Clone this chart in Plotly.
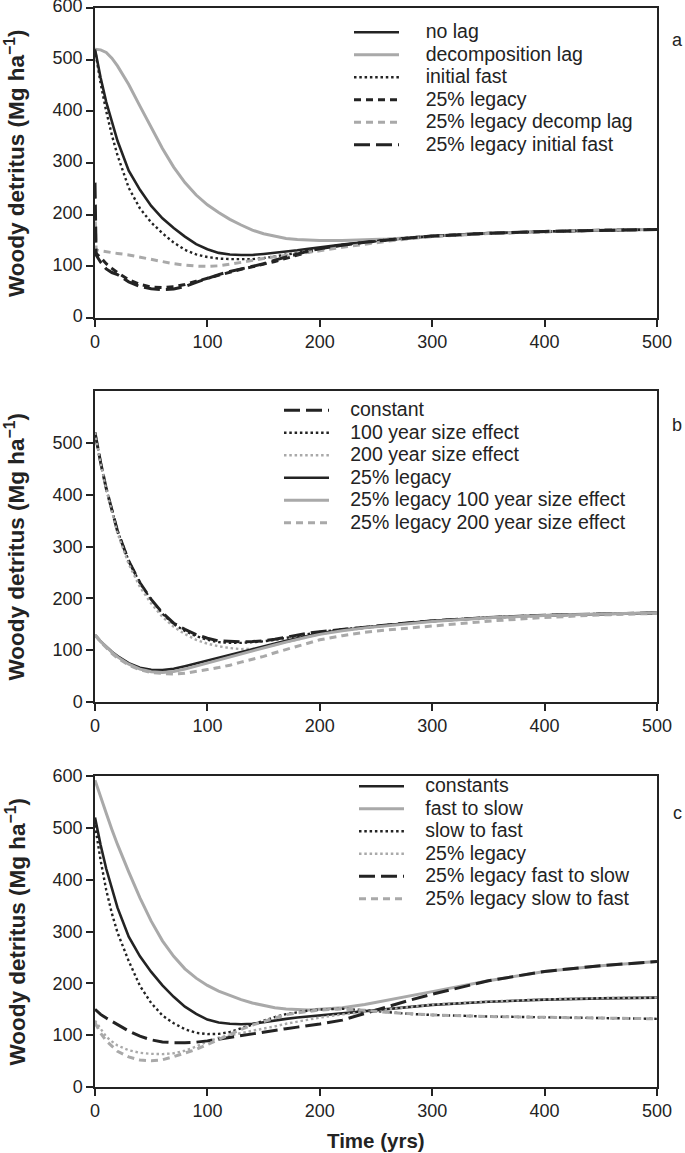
import plotly.graph_objects as go

T = [0, 1, 5, 10, 15, 20, 30, 40, 50, 60, 70, 80, 90, 100, 110, 120, 130, 140, 150,
     160, 170, 180, 190, 200, 220, 240, 260, 280, 300, 350, 400, 450, 500]

# ---------------- panel a ----------------
a_no_lag = [520, 508, 465, 418, 378, 343, 285, 248, 217, 193, 174, 157.5, 143, 133, 126, 123, 122, 122, 124,
            126, 128.5, 131, 134, 137, 142, 147, 151.5, 155, 158.5, 164, 167.5, 170, 171.5]
a_decomp_lag = [520, 520, 519, 514, 503, 488, 452, 410, 368, 328, 292, 262, 238, 219, 204, 191, 180, 170, 163,
                158, 154, 152, 151, 150, 150, 151, 153, 155.5, 158.5, 164, 167.5, 170, 171.5]
a_initial_fast = [520, 505, 454, 400, 354, 315, 252, 212, 185, 164, 146, 132, 123, 118, 115, 114, 113.5, 114, 116,
                  119, 122.5, 126, 130, 134, 141, 146.5, 151, 155, 158.5, 164, 167.5, 170, 171.5]
a_legacy = [130, 125, 117, 105, 96, 88, 74, 65, 60, 59, 60.5, 65, 71, 77, 83.5, 89.5, 94.5, 99, 104,
            109.5, 115.5, 122, 128.5, 134, 141, 146.5, 151, 155, 158.5, 164, 167.5, 170, 171.5]
a_legacy_decomp = [210, 132, 130, 128, 126, 125, 122, 118, 113.5, 109, 105, 102.5, 100.5, 100, 101, 104, 108, 111.5, 115,
                   118.5, 121, 124, 127, 130, 137, 143, 148.5, 153.5, 157.5, 163.5, 167.5, 170, 171.5]
a_legacy_fast = [262, 122, 108, 95, 88, 84, 70, 61, 56.5, 55, 56, 61, 69, 77, 84, 90, 95, 99.5, 105,
                 112, 118, 124, 129.5, 134, 141, 146.5, 151, 155, 158.5, 164, 167.5, 170, 171.5]

# ---------------- panel b ----------------
b_constant = [520, 508, 462, 412, 368, 330, 272, 230, 198, 172, 152, 140, 130, 123, 118, 116.5, 116, 116.5, 118,
              121, 125, 129, 133, 135.5, 140, 144, 148.5, 153, 156.5, 163, 167.5, 170, 172]
b_size100 = [520, 508, 462, 412, 368, 330, 272, 229, 197, 170, 150, 137, 127, 120, 115.5, 114, 114, 115, 117,
             120, 124, 128, 132, 135, 140, 144, 148.5, 153, 156.5, 163, 167.5, 170, 172]
b_size200 = [520, 507, 460, 410, 365, 326, 266, 222, 190, 164, 145, 131, 120, 112.5, 107.5, 104, 102, 102.5, 105,
             110, 115, 120.5, 126, 131, 138, 143, 147.5, 152, 155.5, 162, 167, 170, 172]
b_legacy = [129, 127, 117, 106, 97, 88.5, 75, 66, 62, 61.5, 64, 69, 74.5, 80.5, 85.5, 91, 96.5, 101.5, 107,
            113, 118, 123, 128, 132.5, 139, 144, 148.5, 153, 156.5, 163, 167.5, 170, 172]
b_legacy100 = [129, 127, 117, 106, 96, 87, 73, 63.5, 58.5, 57, 59, 63.5, 69.5, 75.5, 81.5, 87.5, 93, 98.5, 104,
               110, 115.5, 121, 126, 130.5, 137.5, 143, 147.5, 152, 155.5, 162.5, 167, 170, 172]
b_legacy200 = [129, 127, 116, 104, 94, 85, 71, 62, 57, 55, 54, 55.5, 58.5, 62.5, 66.5, 71, 77, 82, 88,
               95, 101, 107.5, 114, 120, 128, 134.5, 139, 143, 147, 156, 163, 168, 171]

# ---------------- panel c ----------------
c_constants = [520, 509, 467, 421, 381, 346, 290, 252, 222, 196, 174, 155, 141, 130, 124.5, 122, 121, 122, 125,
               128.5, 131.5, 134, 136, 138.5, 142.5, 147, 151, 155, 158.5, 164.5, 168.5, 171, 172.5]
c_fast_slow = [592, 586, 560, 528, 497, 468, 415, 365, 320, 282, 252, 228, 210, 196, 185, 176, 168.5, 162, 157,
               153, 150.5, 149, 148.5, 150, 153, 159, 167, 175.5, 184, 205, 223, 234, 242]
c_slow_fast = [505, 490, 437, 380, 335, 298, 243, 195, 162, 138, 123, 111.5, 104.5, 102, 102.5, 106, 113.5, 121, 128,
               135, 140.5, 144.5, 147.5, 149.5, 151, 148, 144, 141, 139, 136, 134.5, 133, 131.5]
c_legacy = [128, 125, 111, 97, 88, 80, 71, 66, 64, 63.5, 65, 70, 78, 87.5, 95, 100, 104, 108.5, 112.5,
            117, 122, 126, 130, 134, 140, 145, 150, 155, 159, 165, 169, 171.5, 172.5]
c_legacy_fast_slow = [150, 148, 140, 133, 127, 120, 108, 98, 91, 87, 85.5, 85.5, 86.5, 89, 92.5, 96, 98.5, 102, 106,
                      109.5, 112.5, 115.5, 118.5, 121.5, 129, 142, 155, 167.5, 179, 205, 223, 234, 242]
c_legacy_slow_fast = [124, 120, 104, 89, 78, 69, 58, 52, 50.5, 52.5, 58.5, 65, 72.5, 82, 92, 102, 111, 119.5, 126.5,
                      133.5, 139.5, 143, 146, 148.5, 150.5, 148, 144, 141, 139, 136, 134.5, 133, 131.5]

X_TICKS = [0, 100, 200, 300, 400, 500]
Y_TICKS_AC = [0, 100, 200, 300, 400, 500, 600]
Y_TICKS_B = [0, 100, 200, 300, 400, 500]

BLACK = "#232323"
GRAY = "#a9a9a9"
DOT = "2.5px,2.8px"
SHORT = "7px,5px"
LONG = "16px,6px"
FONT = "Liberation Sans"

def lbl(s, pad):
    return '<span style="font-size:19.5px">' + "\u00a0" * pad + s + '</span>'

panels = [
    ("x", "y", "legend", 4, [
        ("no lag", a_no_lag, BLACK, 2.6, "solid"),
        ("decomposition lag", a_decomp_lag, GRAY, 3, "solid"),
        ("initial fast", a_initial_fast, BLACK, 2.4, DOT),
        ("25% legacy", a_legacy, BLACK, 3, SHORT),
        ("25% legacy decomp lag", a_legacy_decomp, GRAY, 3, SHORT),
        ("25% legacy initial fast", a_legacy_fast, BLACK, 3, LONG),
    ]),
    ("x2", "y2", "legend2", 3, [
        ("constant", b_constant, BLACK, 3, LONG),
        ("100 year size effect", b_size100, BLACK, 2.4, DOT),
        ("200 year size effect", b_size200, GRAY, 2.4, DOT),
        ("25% legacy", b_legacy, BLACK, 2.6, "solid"),
        ("25% legacy 100 year size effect", b_legacy100, GRAY, 3, "solid"),
        ("25% legacy 200 year size effect", b_legacy200, GRAY, 3, SHORT),
    ]),
    ("x3", "y3", "legend3", 3, [
        ("constants", c_constants, BLACK, 2.6, "solid"),
        ("fast to slow", c_fast_slow, GRAY, 3, "solid"),
        ("slow to fast", c_slow_fast, BLACK, 2.4, DOT),
        ("25% legacy", c_legacy, GRAY, 2.4, DOT),
        ("25% legacy fast to slow", c_legacy_fast_slow, BLACK, 3, LONG),
        ("25% legacy slow to fast", c_legacy_slow_fast, GRAY, 3, SHORT),
    ]),
]

fig = go.Figure()
for xa, ya, lg, pad, series in panels:
    for name, vals, col, w, dash in series:
        fig.add_trace(go.Scatter(
            x=T, y=vals, mode="lines", name=lbl(name, pad), xaxis=xa, yaxis=ya, legend=lg,
            line=dict(color=col, width=w, dash=dash),
        ))

axis_common = dict(
    showline=True, linecolor=BLACK, linewidth=1.5, mirror=True,
    ticks="outside", ticklen=7, tickwidth=1.5, tickcolor=BLACK,
    showgrid=False, zeroline=False, automargin=False, ticklabeloverflow="allow",
    tickfont=dict(family=FONT, size=18, color=BLACK),
)

# Plot area in page pixels: x 95..657, y 8..1087
def px(xp):
    return (xp - 95) / 562.0
def py(yp):
    return (1087 - yp) / 1079.0

doms = {"a": [py(318), 1.0], "b": [py(702), py(391)], "c": [0.0, py(776)]}

layout = dict(
    width=685, height=1153,
    margin=dict(l=95, r=28, t=8, b=66, autoexpand=False),
    paper_bgcolor="white", plot_bgcolor="white",
    font=dict(family=FONT, color=BLACK),
    xaxis=dict(domain=[0, 1], anchor="y", range=[0, 500], tickvals=X_TICKS, **axis_common),
    yaxis=dict(domain=doms["a"], anchor="x", range=[0, 600], tickvals=Y_TICKS_AC,
               ticklabelshift=-2, **axis_common),
    xaxis2=dict(domain=[0, 1], anchor="y2", range=[0, 500], tickvals=X_TICKS, **axis_common),
    yaxis2=dict(domain=doms["b"], anchor="x2", range=[0, 600], tickvals=Y_TICKS_B, **axis_common),
    xaxis3=dict(domain=[0, 1], anchor="y3", range=[0, 500], tickvals=X_TICKS, **axis_common),
    yaxis3=dict(domain=doms["c"], anchor="x3", range=[0, 600], tickvals=Y_TICKS_AC, **axis_common),
    showlegend=True,
)

leg_common = dict(bgcolor="rgba(0,0,0,0)", borderwidth=0, itemwidth=45,
                  font=dict(family=FONT, size=15, color=BLACK),
                  xanchor="left", yanchor="top", tracegroupgap=0)

layout["legend"] = dict(x=px(349), y=py(16), **leg_common)
layout["legend2"] = dict(x=px(279), y=py(394), **leg_common)
layout["legend3"] = dict(x=px(354), y=py(770), **leg_common)

fig.update_layout(**layout)

ytitle = "<b>Woody detritus (Mg ha<sup>\u22121</sup>)</b>"
for yc in [(8 + 318) / 2, (391 + 702) / 2, (776 + 1087) / 2]:
    fig.add_annotation(text=ytitle, xref="paper", yref="paper", x=px(15), y=py(yc),
                       xanchor="center", yanchor="middle", textangle=-90, showarrow=False,
                       font=dict(family=FONT, size=22.5, color=BLACK))

for letter, yp in [("a", 40), ("b", 425), ("c", 813)]:
    fig.add_annotation(text=letter, xref="paper", yref="paper", x=px(677), y=py(yp),
                       xanchor="center", yanchor="middle", showarrow=False,
                       font=dict(family=FONT, size=18, color=BLACK))

fig.add_annotation(text="<b>Time (yrs)</b>", xref="paper", yref="paper", x=px(376), y=py(1140),
                   xanchor="center", yanchor="middle", showarrow=False,
                   font=dict(family=FONT, size=20.5, color=BLACK))

# remove the default 8px page margin so the figure fills the 685x1153 window
fig.write_html("out.html", config={"displayModeBar": False},
               post_script="document.body.style.margin='0px';")
